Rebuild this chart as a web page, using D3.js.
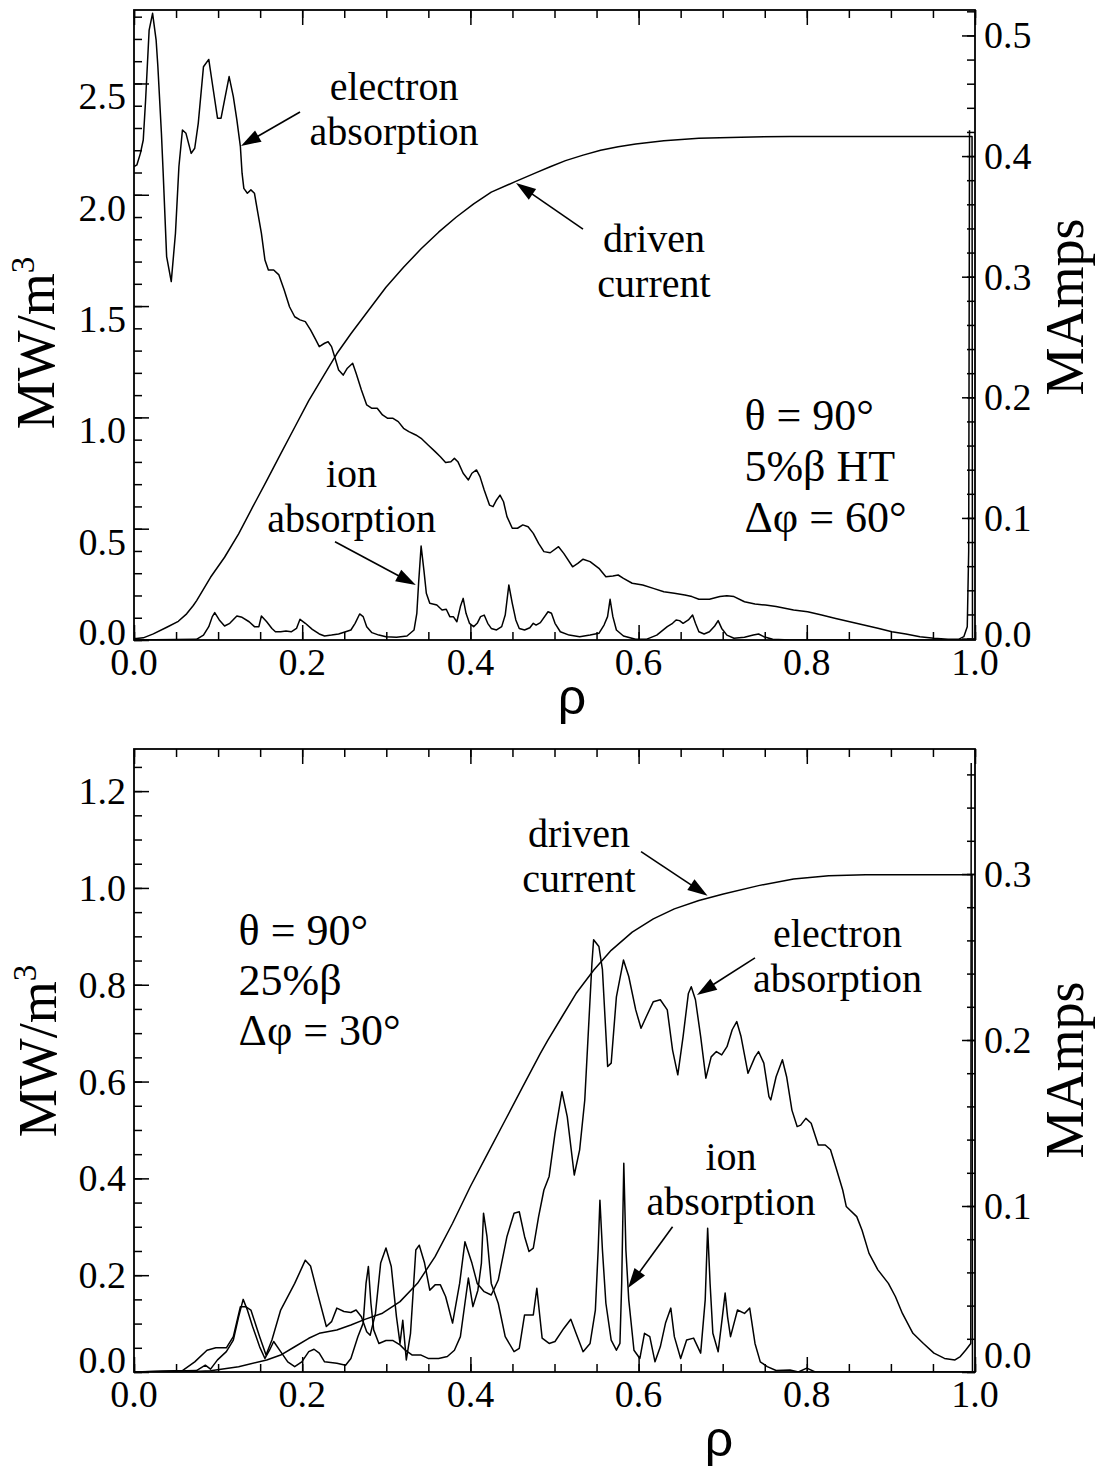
<!DOCTYPE html>
<html>
<head>
<meta charset="utf-8">
<script src="https://cdn.jsdelivr.net/npm/d3@7"></script>
<style>
  html, body { margin: 0; padding: 0; background: #fff; }
  svg { display: block; }
  text { font-family: "Liberation Serif", "Times New Roman", serif; fill: #000; }
</style>
</head>
<body>
<svg id="fig" width="1098" height="1471"></svg>
<script>
// ---------- tick labels ----------
const rhoTickLabels = ["0.0", "0.2", "0.4", "0.6", "0.8", "1.0"];
const topPowerTickLabels = ["0.0", "0.5", "1.0", "1.5", "2.0", "2.5"];
const topCurrentTickLabels = ["0.0", "0.1", "0.2", "0.3", "0.4", "0.5"];
const botPowerTickLabels = ["0.0", "0.2", "0.4", "0.6", "0.8", "1.0", "1.2"];
const botCurrentTickLabels = ["0.0", "0.1", "0.2", "0.3"];

// ---------- upper case: theta = 90 deg, 5% beta HT, dphi = 60 deg ----------
// [rho, MW/m^3]
const topElectron = [[0,2.126],[0.0034,2.134],[0.0076,2.186],[0.011,2.246],[0.0138,2.426],[0.018,2.74],[0.0221,2.815],[0.0263,2.695],[0.0284,2.575],[0.0326,2.276],[0.0347,2.097],[0.0388,1.722],[0.0443,1.61],[0.0493,1.827],[0.0534,2.126],[0.0576,2.291],[0.0618,2.276],[0.068,2.186],[0.0722,2.209],[0.0764,2.321],[0.0826,2.575],[0.0889,2.608],[0.0931,2.501],[0.0993,2.344],[0.1035,2.344],[0.1077,2.426],[0.1131,2.531],[0.1181,2.441],[0.1223,2.336],[0.1265,2.216],[0.1285,2.097],[0.1306,2.029],[0.1348,2.007],[0.139,2.022],[0.1432,2.007],[0.1473,1.917],[0.1515,1.827],[0.1557,1.707],[0.1598,1.662],[0.1661,1.662],[0.1723,1.64],[0.1786,1.572],[0.1849,1.497],[0.1911,1.452],[0.1974,1.438],[0.2037,1.43],[0.2099,1.393],[0.2162,1.348],[0.2203,1.318],[0.2266,1.333],[0.2308,1.34],[0.2349,1.318],[0.2391,1.266],[0.2433,1.213],[0.2487,1.19],[0.2537,1.221],[0.26,1.243],[0.2641,1.198],[0.2704,1.123],[0.2767,1.056],[0.2829,1.041],[0.2892,1.041],[0.2955,1.011],[0.3017,0.996],[0.308,0.996],[0.3142,0.981],[0.3205,0.951],[0.3268,0.936],[0.3351,0.921],[0.3414,0.906],[0.3497,0.876],[0.3581,0.846],[0.3643,0.823],[0.3705,0.797],[0.3768,0.801],[0.381,0.816],[0.3851,0.801],[0.3914,0.749],[0.3976,0.719],[0.4018,0.749],[0.4072,0.764],[0.4114,0.734],[0.4164,0.674],[0.4227,0.606],[0.4269,0.599],[0.4311,0.629],[0.4352,0.651],[0.4394,0.621],[0.4435,0.554],[0.4498,0.502],[0.456,0.502],[0.4623,0.517],[0.4686,0.509],[0.4748,0.479],[0.4811,0.434],[0.4874,0.397],[0.4949,0.392],[0.5048,0.419],[0.511,0.389],[0.5215,0.329],[0.5277,0.344],[0.534,0.363],[0.5423,0.352],[0.5528,0.322],[0.5611,0.284],[0.5694,0.288],[0.5757,0.292],[0.582,0.277],[0.5924,0.255],[0.6049,0.247],[0.6175,0.232],[0.63,0.217],[0.6425,0.21],[0.655,0.202],[0.6634,0.195],[0.6717,0.183],[0.6842,0.183],[0.6967,0.195],[0.705,0.199],[0.7134,0.195],[0.7259,0.172],[0.7384,0.162],[0.7509,0.157],[0.7635,0.15],[0.7843,0.135],[0.801,0.127],[0.8177,0.112],[0.8344,0.097],[0.8511,0.082],[0.8678,0.067],[0.8845,0.053],[0.9012,0.037],[0.9178,0.027],[0.9345,0.015],[0.9512,0.008],[0.9679,0.003],[0.9804,0.003],[0.9867,0.015],[0.9908,0.06],[0.9925,0.4],[0.9935,2.29]];

const topIon = [[0,0],[0.0743,0.003],[0.0826,0.022],[0.0889,0.06],[0.0931,0.105],[0.096,0.123],[0.1014,0.09],[0.1077,0.063],[0.1139,0.075],[0.1223,0.108],[0.1285,0.102],[0.1369,0.082],[0.1432,0.06],[0.1485,0.06],[0.1515,0.108],[0.1578,0.082],[0.164,0.052],[0.1682,0.037],[0.1744,0.037],[0.1807,0.04],[0.1869,0.037],[0.1932,0.052],[0.1974,0.093],[0.2037,0.075],[0.212,0.048],[0.2203,0.027],[0.2266,0.018],[0.2349,0.022],[0.2433,0.027],[0.2516,0.037],[0.2579,0.045],[0.2629,0.075],[0.2683,0.117],[0.2725,0.105],[0.2767,0.06],[0.2829,0.033],[0.2912,0.022],[0.2996,0.015],[0.3121,0.012],[0.3246,0.018],[0.333,0.045],[0.3363,0.12],[0.3384,0.255],[0.3414,0.422],[0.3447,0.314],[0.3476,0.21],[0.3517,0.165],[0.3601,0.157],[0.3663,0.135],[0.3713,0.138],[0.3755,0.105],[0.3797,0.105],[0.3839,0.082],[0.3881,0.15],[0.3914,0.187],[0.3948,0.12],[0.3989,0.075],[0.4039,0.06],[0.4081,0.075],[0.4121,0.105],[0.4164,0.112],[0.4206,0.075],[0.4248,0.052],[0.4311,0.045],[0.4372,0.06],[0.4414,0.112],[0.4457,0.247],[0.4498,0.165],[0.454,0.09],[0.4581,0.052],[0.4644,0.045],[0.4707,0.055],[0.4748,0.075],[0.4781,0.067],[0.4832,0.078],[0.4923,0.127],[0.4964,0.12],[0.5006,0.075],[0.5069,0.037],[0.5174,0.022],[0.5299,0.015],[0.5423,0.022],[0.5528,0.03],[0.5589,0.067],[0.5631,0.105],[0.5661,0.183],[0.5694,0.105],[0.5736,0.045],[0.582,0.018],[0.5965,0.003],[0.609,0.003],[0.6216,0.022],[0.6341,0.06],[0.6404,0.075],[0.6446,0.09],[0.6487,0.087],[0.6529,0.075],[0.6592,0.09],[0.6642,0.112],[0.6676,0.075],[0.6717,0.037],[0.6779,0.027],[0.6842,0.037],[0.6905,0.063],[0.6946,0.087],[0.6988,0.052],[0.705,0.022],[0.7134,0.008],[0.7259,0.012],[0.7364,0.022],[0.7427,0.027],[0.7489,0.015],[0.7594,0.003],[0.78,0],[1,0]];

// [rho, MA]
const topCurrent = [[0,0],[0.003,0],[0.011,0.0006],[0.023,0.0039],[0.039,0.0094],[0.0527,0.0143],[0.0626,0.0205],[0.0705,0.0274],[0.0745,0.0315],[0.091,0.0508],[0.1077,0.0674],[0.1244,0.0868],[0.141,0.1089],[0.1578,0.131],[0.1744,0.1531],[0.1911,0.1752],[0.2078,0.1973],[0.2245,0.2167],[0.2411,0.2361],[0.2579,0.2527],[0.2787,0.272],[0.2996,0.2913],[0.3205,0.3079],[0.3414,0.3231],[0.3622,0.3369],[0.383,0.3493],[0.4039,0.3604],[0.4248,0.3701],[0.454,0.379],[0.479,0.3865],[0.4949,0.3912],[0.5131,0.3962],[0.534,0.4008],[0.5548,0.4048],[0.5757,0.4078],[0.5966,0.4101],[0.63,0.4127],[0.6717,0.4147],[0.7218,0.4157],[0.78,0.4163],[0.9965,0.4163],[0.997,0]];

// ---------- lower case: theta = 90 deg, 25% beta, dphi = 30 deg ----------
const botElectron = [[0,0],[0.0576,0.003],[0.0722,0.021],[0.0868,0.045],[0.0973,0.05],[0.1098,0.05],[0.1181,0.073],[0.1265,0.135],[0.1327,0.135],[0.139,0.128],[0.1494,0.073],[0.157,0.035],[0.164,0.066],[0.1744,0.128],[0.1911,0.183],[0.2037,0.231],[0.2099,0.219],[0.2182,0.163],[0.2287,0.094],[0.2349,0.104],[0.2412,0.132],[0.2496,0.125],[0.2579,0.123],[0.2641,0.128],[0.2704,0.114],[0.2767,0.083],[0.2808,0.076],[0.2871,0.121],[0.2933,0.225],[0.2996,0.256],[0.3059,0.218],[0.3121,0.114],[0.3163,0.059],[0.3196,0.107],[0.3238,0.025],[0.3288,0.08],[0.3351,0.252],[0.3392,0.262],[0.3455,0.225],[0.3517,0.169],[0.358,0.18],[0.3643,0.18],[0.3705,0.156],[0.3788,0.101],[0.3872,0.183],[0.3935,0.269],[0.4018,0.225],[0.4081,0.183],[0.4164,0.166],[0.4248,0.159],[0.4331,0.19],[0.4435,0.28],[0.4519,0.328],[0.4581,0.331],[0.4644,0.28],[0.4697,0.249],[0.4748,0.256],[0.4811,0.321],[0.4874,0.376],[0.4936,0.404],[0.5006,0.493],[0.5089,0.579],[0.5152,0.527],[0.5235,0.407],[0.5299,0.459],[0.536,0.562],[0.5445,0.844],[0.5465,0.893],[0.5528,0.879],[0.557,0.831],[0.5632,0.631],[0.5674,0.638],[0.5736,0.775],[0.582,0.851],[0.5883,0.817],[0.5966,0.748],[0.6029,0.71],[0.6091,0.734],[0.6175,0.765],[0.6258,0.769],[0.6341,0.748],[0.6404,0.665],[0.6466,0.614],[0.6529,0.693],[0.6592,0.782],[0.6626,0.796],[0.6676,0.769],[0.6738,0.693],[0.68,0.607],[0.6863,0.651],[0.6925,0.662],[0.6988,0.655],[0.7051,0.672],[0.7113,0.707],[0.7167,0.724],[0.7218,0.693],[0.7301,0.617],[0.7384,0.651],[0.7426,0.662],[0.7489,0.638],[0.755,0.569],[0.7572,0.562],[0.7635,0.61],[0.771,0.645],[0.776,0.61],[0.7823,0.541],[0.7885,0.507],[0.7927,0.51],[0.7989,0.524],[0.8052,0.514],[0.8136,0.469],[0.8219,0.469],[0.8282,0.459],[0.8344,0.424],[0.8427,0.376],[0.8469,0.342],[0.8594,0.321],[0.8657,0.293],[0.874,0.245],[0.8845,0.211],[0.897,0.183],[0.9053,0.156],[0.9137,0.121],[0.9262,0.08],[0.9387,0.059],[0.9512,0.039],[0.9637,0.028],[0.9762,0.025],[0.9825,0.032],[0.9888,0.045],[0.995,0.059],[0.9955,1.258]];

const botIon = [[0,0],[0.0743,0.003],[0.0848,0.014],[0.091,0.006],[0.0993,0.025],[0.1098,0.042],[0.1181,0.066],[0.1244,0.114],[0.1298,0.15],[0.1348,0.128],[0.141,0.094],[0.1494,0.052],[0.1557,0.028],[0.1611,0.045],[0.1661,0.063],[0.1744,0.042],[0.1828,0.021],[0.1911,0.011],[0.1995,0.021],[0.2078,0.042],[0.2141,0.047],[0.2203,0.039],[0.2266,0.021],[0.2412,0.018],[0.2516,0.014],[0.2579,0.028],[0.2662,0.073],[0.2725,0.101],[0.2759,0.183],[0.2787,0.218],[0.2817,0.142],[0.285,0.087],[0.2912,0.059],[0.2996,0.065],[0.308,0.065],[0.3163,0.056],[0.3226,0.045],[0.3309,0.035],[0.3414,0.035],[0.3497,0.028],[0.3622,0.028],[0.3726,0.032],[0.381,0.045],[0.3881,0.073],[0.3935,0.142],[0.3976,0.194],[0.403,0.135],[0.4089,0.169],[0.4131,0.225],[0.4156,0.328],[0.4197,0.28],[0.4248,0.183],[0.4331,0.142],[0.4414,0.073],[0.4519,0.042],[0.4581,0.049],[0.4644,0.118],[0.4748,0.118],[0.479,0.173],[0.4853,0.07],[0.4936,0.059],[0.5006,0.063],[0.511,0.09],[0.5194,0.109],[0.5256,0.08],[0.534,0.042],[0.5423,0.059],[0.5486,0.128],[0.5519,0.252],[0.554,0.355],[0.557,0.252],[0.5611,0.142],[0.5674,0.066],[0.5736,0.045],[0.5778,0.059],[0.5799,0.183],[0.5824,0.431],[0.5849,0.252],[0.5883,0.149],[0.5945,0.045],[0.6015,0.028],[0.607,0.08],[0.6133,0.073],[0.6195,0.021],[0.6258,0.052],[0.632,0.101],[0.6383,0.132],[0.6425,0.073],[0.65,0.028],[0.6571,0.066],[0.6654,0.07],[0.6738,0.039],[0.6792,0.149],[0.6821,0.297],[0.685,0.183],[0.6883,0.08],[0.6946,0.042],[0.6996,0.114],[0.7029,0.163],[0.7058,0.114],[0.7093,0.073],[0.7176,0.128],[0.7259,0.121],[0.7321,0.132],[0.7384,0.059],[0.7447,0.021],[0.753,0.011],[0.7635,0.003],[0.78,0.004],[0.79,0],[0.8,0.008],[0.81,0],[1,0]];

const botCurrent = [[0,0],[0.06,0],[0.091,0.0008],[0.1244,0.0032],[0.1578,0.0072],[0.1744,0.0102],[0.1911,0.0152],[0.2078,0.0203],[0.2203,0.0233],[0.2411,0.0253],[0.2579,0.0283],[0.2745,0.0317],[0.2955,0.0354],[0.3163,0.0424],[0.3371,0.0534],[0.358,0.0695],[0.3788,0.0896],[0.3998,0.1116],[0.4206,0.1317],[0.4415,0.1518],[0.4623,0.1719],[0.4832,0.192],[0.4923,0.2],[0.5089,0.214],[0.5256,0.228],[0.5465,0.242],[0.5674,0.254],[0.5924,0.265],[0.6175,0.273],[0.6425,0.279],[0.6717,0.284],[0.7008,0.288],[0.7426,0.293],[0.7843,0.297],[0.826,0.299],[0.87,0.2995],[0.9965,0.2995],[0.997,0]];

// ---------- drawing ----------
const svg = d3.select("#fig");
const X0 = 134, X1 = 975;
const TICK_FONT = 38;

function grid(max, step) {
  return d3.range(0, Math.floor(max / step + 1e-6) + 1).map(i => +(i * step).toFixed(4));
}

function drawPanel(p) {
  const x = d3.scaleLinear().domain([0, 1]).range([X0, X1]);
  const yL = d3.scaleLinear().domain(p.leftDomain).range([p.bottom, p.top]);
  const yR = d3.scaleLinear().domain(p.rightDomain).range([p.bottom, p.top]);
  const g = svg.append("g");

  const clipId = "clip-" + p.id;
  svg.append("clipPath").attr("id", clipId)
    .append("rect").attr("x", X0).attr("y", p.top)
    .attr("width", X1 - X0).attr("height", p.bottom - p.top);

  // profiles
  const lineL = d3.line().x(d => x(d[0])).y(d => yL(d[1]));
  const lineR = d3.line().x(d => x(d[0])).y(d => yR(d[1]));
  const curves = g.append("g").attr("clip-path", `url(#${clipId})`)
    .attr("fill", "none").attr("stroke", "#000")
    .attr("stroke-width", 1.5).attr("stroke-linejoin", "round");
  curves.append("path").attr("d", lineL(p.electron));
  curves.append("path").attr("d", lineL(p.ion));
  curves.append("path").attr("d", lineR(p.current));

  // inward tick marks on all four sides
  function ticks(axisFn, scale, values, size, transform) {
    const a = g.append("g").attr("transform", transform)
      .call(axisFn(scale).tickValues(values).tickSize(size).tickSizeOuter(0).tickFormat(""));
    a.select(".domain").remove();
    a.selectAll(".tick text").remove();
    a.selectAll(".tick line").attr("stroke", "#000").attr("stroke-width", 1.5);
  }
  const rhoMinor = grid(1, 0.05), rhoMajor = grid(1, 0.2);
  ticks(d3.axisBottom, x, rhoMinor, -8, `translate(0,${p.bottom})`);
  ticks(d3.axisBottom, x, rhoMajor, -15, `translate(0,${p.bottom})`);
  ticks(d3.axisTop, x, rhoMinor, -8, `translate(0,${p.top})`);
  ticks(d3.axisTop, x, rhoMajor, -15, `translate(0,${p.top})`);
  ticks(d3.axisLeft, yL, grid(p.leftDomain[1], p.leftMinor), -8, `translate(${X0},0)`);
  ticks(d3.axisLeft, yL, grid(p.leftDomain[1], p.leftMajor), -15, `translate(${X0},0)`);
  ticks(d3.axisRight, yR, grid(p.rightDomain[1], p.rightMinor), -8, `translate(${X1},0)`);
  ticks(d3.axisRight, yR, grid(p.rightDomain[1], p.rightMajor), -13, `translate(${X1},0)`);

  // frame
  g.append("rect").attr("x", X0).attr("y", p.top)
    .attr("width", X1 - X0).attr("height", p.bottom - p.top)
    .attr("fill", "none").attr("stroke", "#000").attr("stroke-width", 1.8);

  // tick labels
  const lab = g.append("g").style("font-size", TICK_FONT + "px");
  rhoTickLabels.forEach(s => {
    lab.append("text").attr("x", x(+s)).attr("y", p.bottom + 22)
      .attr("text-anchor", "middle").attr("dominant-baseline", "central").text(s);
  });
  p.leftLabels.forEach(s => {
    const v = +s;
    lab.append("text").attr("x", X0 - 8)
      .attr("y", yL(v) + (v === 0 ? p.leftZeroDy : p.leftDy))
      .attr("text-anchor", "end").attr("dominant-baseline", "central").text(s);
  });
  p.rightLabels.forEach(s => {
    const v = +s;
    lab.append("text").attr("x", X1 + 9)
      .attr("y", yR(v) + (v === 0 ? p.rightZeroDy : 0))
      .attr("text-anchor", "start").attr("dominant-baseline", "central").text(s);
  });

  // axis titles
  const lt = g.append("text")
    .attr("transform", `translate(${p.leftTitle[0]},${p.leftTitle[1]}) rotate(-90)`)
    .attr("text-anchor", "middle").style("font-size", "54px").text("MW/m");
  lt.append("tspan").attr("dy", -20).style("font-size", "33px").text("3");
  g.append("text")
    .attr("transform", `translate(${p.rightTitle[0]},${p.rightTitle[1]}) rotate(-90)`)
    .attr("text-anchor", "middle").style("font-size", "54px").text("MAmps");
  g.append("text").attr("x", p.rhoTitle[0]).attr("y", p.rhoTitle[1])
    .attr("text-anchor", "middle")
    .style("font-family", "'Liberation Sans', Arial, sans-serif")
    .style("font-size", "50px").text("ρ");

  // annotations with arrows
  const yOf = (pt) => (pt[2] === "R" ? yR(pt[1]) : yL(pt[1]));
  p.notes.forEach(n => {
    const t = g.append("text").attr("text-anchor", "middle").style("font-size", "40px");
    n.lines.forEach((s, i) => {
      t.append("tspan").attr("x", x(n.at[0])).attr("y", yL(n.at[1]) + i * 45).text(s);
    });
    const x1 = x(n.from[0]), y1 = yOf(n.from), x2 = x(n.tip[0]), y2 = yOf(n.tip);
    const dx = x2 - x1, dy = y2 - y1, L = Math.hypot(dx, dy), ux = dx / L, uy = dy / L;
    const hl = 20, hw = 6.5, bx = x2 - ux * hl, by = y2 - uy * hl;
    g.append("line").attr("x1", x1).attr("y1", y1).attr("x2", bx + ux * 2).attr("y2", by + uy * 2)
      .attr("stroke", "#000").attr("stroke-width", 1.6);
    g.append("path")
      .attr("d", `M${x2},${y2}L${bx - uy * hw},${by + ux * hw}L${bx + uy * hw},${by - ux * hw}Z`)
      .attr("fill", "#000");
  });

  // case parameters
  const pt = g.append("text").style("font-size", "44px");
  p.params.forEach((s, i) => {
    pt.append("tspan").attr("x", x(p.paramAt[0])).attr("y", yL(p.paramAt[1]) + i * p.paramStep).text(s);
  });
}

drawPanel({
  id: "top", top: 10, bottom: 640,
  leftDomain: [0, 2.83], rightDomain: [-0.0012, 0.5211],
  leftMinor: 0.1, leftMajor: 0.5, rightMinor: 0.02, rightMajor: 0.1,
  leftLabels: topPowerTickLabels, rightLabels: topCurrentTickLabels,
  leftDy: 13, leftZeroDy: -8, rightZeroDy: -5,
  electron: topElectron, ion: topIon, current: topCurrent,
  leftTitle: [54, 343], rightTitle: [1083, 307], rhoTitle: [572, 714],
  notes: [
    { lines: ["electron", "absorption"], at: [0.3092, 2.426], from: [0.1974, 2.372], tip: [0.1272, 2.219] },
    { lines: ["driven", "current"], at: [0.6183, 1.743], from: [0.5339, 1.846], tip: [0.4542, 0.3777, "R"] },
    { lines: ["ion", "absorption"], at: [0.2587, 0.689], from: [0.239, 0.4416], tip: [0.3351, 0.2471] }
  ],
  params: ["θ = 90°", "5%β HT", "Δφ = 60°"], paramAt: [0.7259, 0.943], paramStep: 51
});

drawPanel({
  id: "bottom", top: 749, bottom: 1372,
  leftDomain: [0, 1.287], rightDomain: [0, 0.3753],
  leftMinor: 0.05, leftMajor: 0.2, rightMinor: 0.02, rightMajor: 0.1,
  leftLabels: botPowerTickLabels, rightLabels: botCurrentTickLabels,
  leftDy: 0, leftZeroDy: -12, rightZeroDy: -17,
  electron: botElectron, ion: botIon, current: botCurrent,
  leftTitle: [56, 1051], rightTitle: [1083, 1070], rhoTitle: [719, 1456],
  notes: [
    { lines: ["driven", "current"], at: [0.5291, 1.0853], from: [0.6029, 1.075], tip: [0.682, 0.2869, "R"] },
    { lines: ["electron", "absorption"], at: [0.8365, 0.8787], from: [0.7384, 0.8554], tip: [0.6694, 0.7789] },
    { lines: ["ion", "absorption"], at: [0.7099, 0.4174], from: [0.6404, 0.3002], tip: [0.5874, 0.1736] }
  ],
  params: ["θ = 90°", "25%β", "Δφ = 30°"], paramAt: [0.1244, 0.8822], paramStep: 50
});
</script>
</body>
</html>
